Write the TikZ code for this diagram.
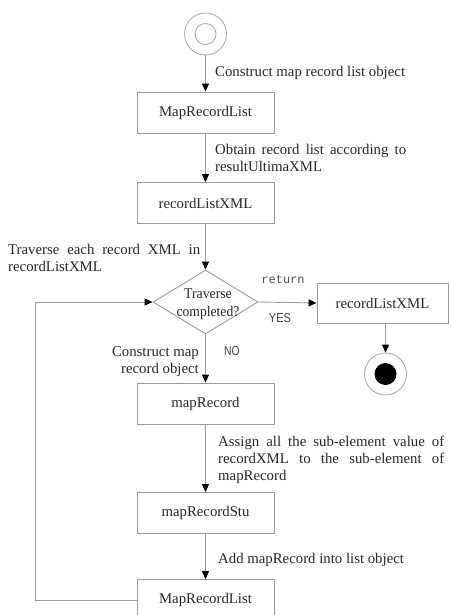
\documentclass[tikz,border=0pt]{standalone}
\usepackage{fontspec}
\setmainfont{Liberation Serif}
\newfontfamily\monof{Liberation Mono}
\newfontfamily\sansf{Liberation Sans}
\newcommand\nohyphx{\hyphenpenalty=10000\relax\exhyphenpenalty=10000\relax}
\usetikzlibrary{arrows.meta,shapes.geometric}
\begin{document}
\begin{tikzpicture}[x=1pt,y=-1pt,
  line/.style={draw=black!40, line width=0.9pt},
  arr/.style={line, -{Triangle[length=8pt,width=7pt,color=black,fill=black]}},
  box/.style={draw=black!40, line width=0.9pt, minimum width=137pt, minimum height=41pt,
    inner sep=0pt, font=\fontsize{14.8}{17}\selectfont, text=black!85},
  lab/.style={inner sep=0pt, font={\fontsize{14.8}{17}\selectfont\nohyphx}, text=black!85},
  small/.style={inner sep=0pt, font=\fontsize{14.8}{17.5}\selectfont, text=black!85},
  mono/.style={inner sep=0pt, font=\monof\fontsize{12}{14}\selectfont, text=black!70},
  sans/.style={inner sep=0pt, font=\sansf\fontsize{13}{14}\selectfont, text=black!75},
  ring/.style={circle, draw=black!35, line width=0.8pt, inner sep=0pt},
  dia/.style={diamond, draw=black!40, line width=0.9pt, inner sep=0pt, minimum width=105pt, minimum height=64pt}
]
\useasboundingbox (0,0) rectangle (450,615);
\clip (0,0) rectangle (450,615);

% start
\node[ring, minimum size=42pt] (s) at (205.5,34) {};
\node[ring, minimum size=21pt] (si) at (s) {};

\node[box] (b1) at (205.5,112.5) {MapRecordList};
\node[box] (b2) at (205.5,203) {recordListXML};
\node[dia] (d) at (205.5,302) {};
\node[small, align=center] (dt) at (208,304) {\scalebox{0.93}[1]{Traverse}\\\scalebox{0.92}[1]{completed?}};
\node[box, minimum width=131pt, minimum height=40pt] (b3) at (382.5,303) {recordListXML};
\node[ring, minimum size=42pt] (e) at (385.5,374) {};
\node[circle, fill=black, inner sep=0pt, minimum size=22pt] (ei) at (e) {};
\node[box] (b4) at (205.5,403.5) {mapRecord};
\node[box] (b5) at (205.5,513) {mapRecordStu};
\node[box] (b6) at (205.5,600) {MapRecordList};
\coordinate (lp) at (35,0);

% connectors
\draw[arr] (s.south) -- (s.south |- b1.north);
\draw[arr] (b1.south) -- (b2.north);
\draw[arr] (b2.south) -- (d.north);
\draw[arr] (d.east) -- (b3.west);
\draw[arr] (e.north |- b3.south) -- (e.north);
\draw[arr] (d.south) -- (d.south |- b4.north);
\draw[arr] (b4.south) -- (b5.north);
\draw[arr] (b5.south) -- (b6.north);
\draw[arr] (b6.west) -- (b6.west -| lp) |- (d.west);

% labels
\node[lab, anchor=base west] (l1) at (215,77) {Construct map record list object};
\node[lab, anchor=north west, text width=191pt, align=justify] (l2) at (215,144)
  {Obtain record list according to resultUltimaXML};
\node[lab, anchor=north west, text width=192pt, align=justify] (l3) at (8,244)
  {Traverse each record XML in recordListXML};
\node[lab, anchor=north east, align=right] (l4) at (199,346) {Construct map\\record object};
\node[lab, anchor=north west, text width=226pt, align=justify] (l5) at (218,436)
  {Assign all the sub-element value of recordXML to the sub-element of mapRecord};
\node[lab, anchor=base west] (l6) at (218,563) {Add mapRecord into list object};
\node[mono] (ret) at (283,280) {return};
\node[sans] (yes) at (280,318) {\scalebox{0.85}[1]{YES}};
\node[sans] (no) at (232,351) {\scalebox{0.8}[1]{NO}};
\end{tikzpicture}
\end{document}
